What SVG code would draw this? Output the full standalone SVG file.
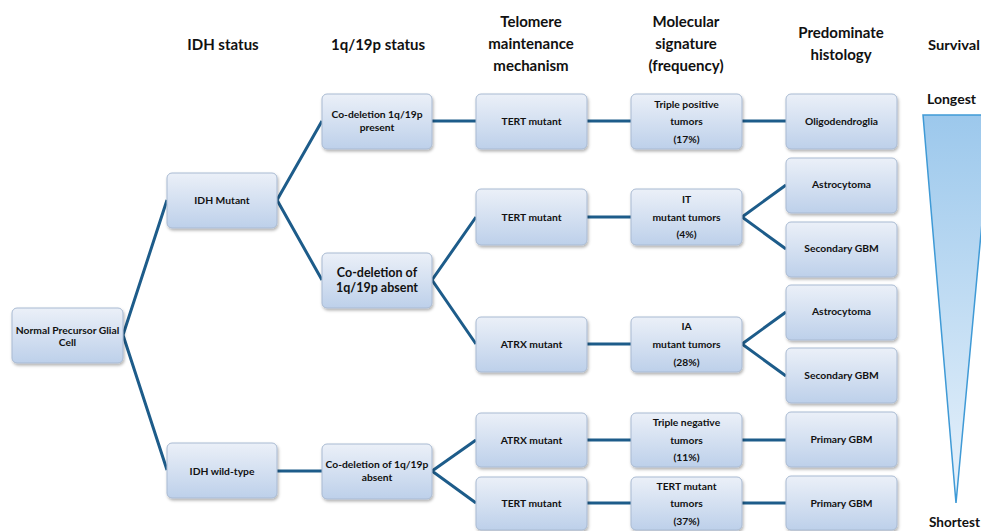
<svg xmlns="http://www.w3.org/2000/svg" width="981" height="531" viewBox="0 0 981 531">
<defs>
<linearGradient id="ng" x1="0" y1="0" x2="0" y2="1">
<stop offset="0" stop-color="#EBF0F8"/>
<stop offset="1" stop-color="#BDD0EA"/>
</linearGradient>
<linearGradient id="tg" x1="0" y1="0" x2="0" y2="1">
<stop offset="0" stop-color="#9CC8EC"/>
<stop offset="1" stop-color="#E8F2FB"/>
</linearGradient>
<filter id="sh" x="-10%" y="-10%" width="125%" height="135%">
<feDropShadow dx="1" dy="2" stdDeviation="1.5" flood-color="#000" flood-opacity="0.3"/>
</filter>
</defs>
<style>
.n rect{fill:url(#ng);stroke:#A9BAD2;stroke-width:1;filter:url(#sh)}
.n text{font-family:Lato,"Open Sans","Liberation Sans",sans-serif;font-weight:bold;font-size:10.3px;fill:#111;text-anchor:middle}
.n text.big{font-size:12.5px}
.h{font-family:Lato,"Open Sans","Liberation Sans",sans-serif;font-weight:bold;font-size:15px;fill:#111;text-anchor:middle}
.hs{font-family:Lato,"Open Sans","Liberation Sans",sans-serif;font-weight:bold;font-size:14px;fill:#111}
.c line, .c polyline{stroke:#1D5C8A;stroke-width:3;fill:none}
</style>
<rect width="981" height="531" fill="#fff"/>
<g id="headers">
<text class="h" x="223" y="50">IDH status</text>
<text class="h" x="378" y="50">1q/19p status</text>
<text class="h" x="531" y="27">Telomere</text>
<text class="h" x="531" y="49">maintenance</text>
<text class="h" x="531" y="71">mechanism</text>
<text class="h" x="686" y="27">Molecular</text>
<text class="h" x="686" y="49">signature</text>
<text class="h" x="686" y="71">(frequency)</text>
<text class="h" x="841" y="38">Predominate</text>
<text class="h" x="841" y="60">histology</text>
<text class="hs" x="928" y="50" textLength="52" lengthAdjust="spacingAndGlyphs">Survival</text>
</g>
<g class="c" id="connectors">
<polyline points="167,200 123,335 167,470"/>
<polyline points="322,121 277,200 322,280"/>
<line x1="432" y1="121" x2="476" y2="121"/>
<line x1="587" y1="121" x2="631" y2="121"/>
<line x1="742" y1="121" x2="786" y2="121"/>
<polyline points="476,217 432,280 476,344"/>
<line x1="587" y1="217" x2="631" y2="217"/>
<polyline points="786,185 742,217 786,249"/>
<line x1="587" y1="344" x2="631" y2="344"/>
<polyline points="786,312 742,344 786,376"/>
<line x1="277" y1="471" x2="322" y2="471"/>
<polyline points="476,440 432,471 476,503"/>
<line x1="587" y1="440" x2="631" y2="440"/>
<line x1="742" y1="440" x2="786" y2="440"/>
<line x1="587" y1="503" x2="631" y2="503"/>
<line x1="742" y1="503" x2="786" y2="503"/>
</g>
<g class="n" id="normal"><rect x="12" y="308" width="111" height="55" rx="5"/><text x="67.5" y="334">Normal Precursor Glial</text><text x="67.5" y="346">Cell</text></g>
<g class="n" id="idh-mutant"><rect x="167" y="173" width="110" height="55" rx="5"/><text x="222" y="204">IDH Mutant</text></g>
<g class="n" id="idh-wild"><rect x="167" y="443" width="110" height="55" rx="5"/><text x="222" y="475">IDH wild-type</text></g>
<g class="n" id="codel-present"><rect x="322" y="94" width="110" height="55" rx="5"/><text x="377" y="118">Co-deletion 1q/19p</text><text x="377" y="131">present</text></g>
<g class="n" id="codel-absent-1"><rect x="322" y="253" width="110" height="55" rx="5"/><text class="big" x="377" y="277">Co-deletion of</text><text class="big" x="377" y="292">1q/19p absent</text></g>
<g class="n" id="codel-absent-2"><rect x="322" y="444" width="110" height="55" rx="5"/><text x="377" y="468">Co-deletion of 1q/19p</text><text x="377" y="481">absent</text></g>
<g class="n" id="tert-1"><rect x="476" y="94" width="111" height="55" rx="5"/><text x="531.5" y="125">TERT mutant</text></g>
<g class="n" id="tert-2"><rect x="476" y="189" width="111" height="56" rx="5"/><text x="531.5" y="221">TERT mutant</text></g>
<g class="n" id="atrx-1"><rect x="476" y="317" width="111" height="55" rx="5"/><text x="531.5" y="348">ATRX mutant</text></g>
<g class="n" id="atrx-2"><rect x="476" y="413" width="111" height="54" rx="5"/><text x="531.5" y="444">ATRX mutant</text></g>
<g class="n" id="tert-3"><rect x="476" y="477" width="111" height="53" rx="5"/><text x="531.5" y="507">TERT mutant</text></g>
<g class="n" id="triple-pos"><rect x="631" y="94" width="111" height="55" rx="5"/><text x="686.5" y="107.5">Triple positive</text><text x="686.5" y="125">tumors</text><text x="686.5" y="142.5">(17%)</text></g>
<g class="n" id="it"><rect x="631" y="189" width="111" height="56" rx="5"/><text x="686.5" y="202.5">IT</text><text x="686.5" y="220.5">mutant tumors</text><text x="686.5" y="238">(4%)</text></g>
<g class="n" id="ia"><rect x="631" y="317" width="111" height="55" rx="5"/><text x="686.5" y="330">IA</text><text x="686.5" y="348">mutant tumors</text><text x="686.5" y="365.5">(28%)</text></g>
<g class="n" id="triple-neg"><rect x="631" y="413" width="111" height="54" rx="5"/><text x="686.5" y="426">Triple negative</text><text x="686.5" y="443.5">tumors</text><text x="686.5" y="461">(11%)</text></g>
<g class="n" id="tert-tumors"><rect x="631" y="477" width="111" height="53" rx="5"/><text x="686.5" y="489.5">TERT mutant</text><text x="686.5" y="507">tumors</text><text x="686.5" y="524.5">(37%)</text></g>
<g class="n" id="oligo"><rect x="786" y="94" width="111" height="55" rx="5"/><text x="841.5" y="125">Oligodendroglia</text></g>
<g class="n" id="astro-1"><rect x="786" y="158" width="111" height="55" rx="5"/><text x="841.5" y="188">Astrocytoma</text></g>
<g class="n" id="secgbm-1"><rect x="786" y="222" width="111" height="55" rx="5"/><text x="841.5" y="252">Secondary GBM</text></g>
<g class="n" id="astro-2"><rect x="786" y="285" width="111" height="55" rx="5"/><text x="841.5" y="315">Astrocytoma</text></g>
<g class="n" id="secgbm-2"><rect x="786" y="348" width="111" height="55" rx="5"/><text x="841.5" y="379">Secondary GBM</text></g>
<g class="n" id="primgbm-1"><rect x="786" y="412" width="111" height="55" rx="5"/><text x="841.5" y="443">Primary GBM</text></g>
<g class="n" id="primgbm-2"><rect x="786" y="476" width="111" height="54" rx="5"/><text x="841.5" y="507">Primary GBM</text></g>
<g id="survival">
<text class="hs" x="927" y="104" textLength="49" lengthAdjust="spacingAndGlyphs">Longest</text>
<polygon points="923,115 992,115 956,503" fill="url(#tg)" stroke="#3F9AD6" stroke-width="1.5"/>
<text class="hs" x="929" y="527" textLength="51" lengthAdjust="spacingAndGlyphs">Shortest</text>
</g>
</svg>
